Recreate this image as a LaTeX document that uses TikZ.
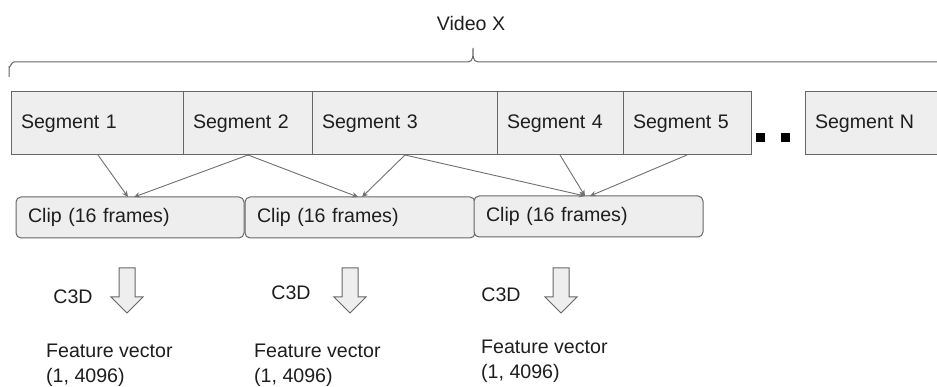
\documentclass[tikz,border=0pt]{standalone}
\usepackage{fontspec}
\setmainfont{Liberation Sans}
\usetikzlibrary{arrows.meta}
\definecolor{txt}{HTML}{1E1E1E}
\definecolor{boxfill}{HTML}{EEEEEE}
\definecolor{boxline}{HTML}{666666}
\definecolor{conn}{HTML}{707070}
\tikzset{
  base/.style={font=\fontsize{19.6}{25}\selectfont, text=txt},
  seg/.style={base, draw=boxline, fill=boxfill, line width=1pt, anchor=north west,
    minimum height=63pt, inner xsep=10pt, inner ysep=0pt, align=left, outer sep=0pt},
  clipbox/.style={base, draw=boxline, fill=boxfill, line width=1pt, rounded corners=5pt,
    anchor=north west, minimum height=41pt, inner xsep=12pt, inner ysep=0pt, align=left, outer sep=0pt},
  lbl/.style={base, inner sep=0pt},
  conline/.style={draw=conn, line width=0.9pt, -{Stealth[length=6pt,width=5.5pt]}},
  hollow/.pic={
    \draw[draw=boxline, fill=boxfill, line width=1pt, line join=miter]
      (-8,0) -- (8,0) -- (8,29) -- (16,29) -- (0,45) -- (-16,29) -- (-8,29) -- cycle;
  }
}
\begin{document}
\begin{tikzpicture}[x=1pt,y=-1pt]
\useasboundingbox (0,0) rectangle (937,387);
\clip (0,0) rectangle (937,387);
\fill[white] (0,0) rectangle (937,387);

% title and brace
\node[lbl] (title) at (471,23) {Video X};
\draw[draw=boxline, line width=1pt] (9,77) -- (9,67) to[out=-90,in=180] (14,62) -- (468,62)
  to[out=0,in=-90] (473,48) to[out=-90,in=180] (478,62) -- (945,62);

% segments
\node[seg, text width=152pt] (s1) at (11,92) {Segment 1};
\node[seg, text width=109pt] (s2) at (183,92) {Segment 2};
\node[seg, text width=165pt] (s3) at (312,92) {Segment 3};
\node[seg, text width=106pt] (s4) at (497,92) {Segment 4};
\node[seg, text width=108pt] (s5) at (623,92) {Segment 5};
\node[seg, text width=130pt] (sn) at (805,92) {Segment N};

% ellipsis dots
\fill[black] (756,133) rectangle (765,142);
\fill[black] (781,133) rectangle (790,142);

% clips
\node[clipbox, text width=204pt] (c1) at (16,197) {Clip (16 frames)};
\node[clipbox, text width=206pt] (c2) at (245,197) {Clip (16 frames)};
\node[clipbox, text width=205pt] (c3) at (474,196) {Clip (16 frames)};

% connectors
\draw[conline] ([xshift=87pt]s1.south west) -- ([xshift=112pt]c1.north west);
\draw[conline] ([xshift=65pt]s2.south west) -- ([xshift=118pt]c1.north west);
\draw[conline] ([xshift=65pt]s2.south west) -- ([xshift=113pt]c2.north west);
\draw[conline] ([xshift=93pt]s3.south west) -- ([xshift=117pt]c2.north west);
\draw[conline] ([xshift=93pt]s3.south west) -- ([xshift=111pt]c3.north west);
\draw[conline] ([xshift=63pt]s4.south west) -- ([xshift=111pt]c3.north west);
\draw[conline] ([xshift=64pt]s5.south west) -- ([xshift=116pt]c3.north west);

% C3D block arrows
\pic at (127,268) {hollow};
\pic at (350,268) {hollow};
\pic at (561,268) {hollow};
\node[lbl] (k1) at (73,297) {C3D};
\node[lbl] (k2) at (291,293) {C3D};
\node[lbl] (k3) at (501,295) {C3D};

% feature vectors
\node[lbl, anchor=west, align=left] (f1) at (46,365.5) {Feature vector\\(1, 4096)};
\node[lbl, anchor=west, align=left] (f2) at (254,365.5) {Feature vector\\(1, 4096)};
\node[lbl, anchor=west, align=left] (f3) at (481,361) {Feature vector\\(1, 4096)};
\end{tikzpicture}
\end{document}
